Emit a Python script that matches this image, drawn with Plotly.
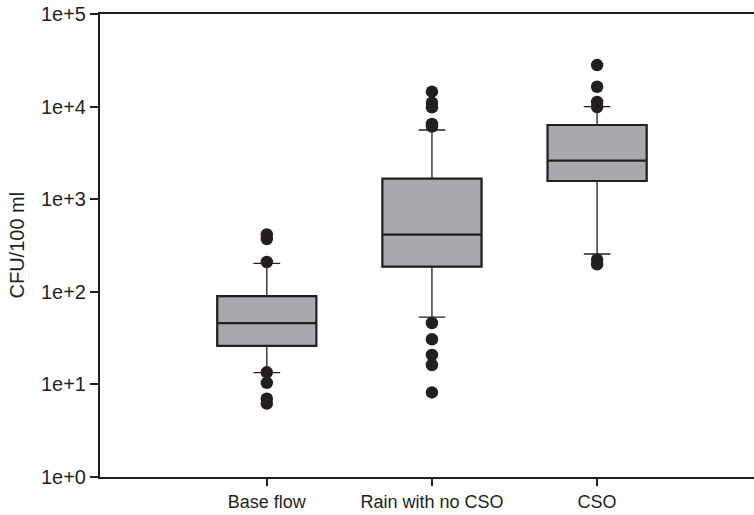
import plotly.graph_objects as go

# Bacterial counts by flow condition (CFU/100 ml)
categories = ["Base flow", "Rain with no CSO", "CSO"]
q1 = [26, 187, 1573]
median = [46, 414, 2605]
q3 = [90, 1665, 6330]
lower_fence = [13.4, 53.4, 256]
upper_fence = [203, 5590, 9970]

# Outlying observations per category
outliers_base = [416, 372, 210, 13.5, 10.4, 7.0, 6.2]
outliers_rain = [14500, 11000, 9820, 6500, 6100, 46, 30.7, 20.8, 16.2, 8.2]
outliers_cso = [28100, 16400, 11200, 9900, 222, 198]

y_tickvals = [1, 10, 100, 1000, 10000, 100000]
y_ticktext = ["1e+0", "1e+1", "1e+2", "1e+3", "1e+4", "1e+5"]

ink = "#231f20"
box_fill = "#a7a9ac"
font_family = "Liberation Sans, Arial, sans-serif"

fig = go.Figure()

# Whiskers and caps (thin strokes)
fig.add_trace(go.Box(
    x=categories,
    q1=q1,
    median=median,
    q3=q3,
    lowerfence=lower_fence,
    upperfence=upper_fence,
    width=0.6,
    whiskerwidth=0.27,
    fillcolor=box_fill,
    line=dict(color=ink, width=1.3),
    boxpoints=False,
    hoverinfo="skip",
    showlegend=False,
))

# Box outline and median drawn again with a heavier stroke
fig.add_trace(go.Box(
    x=categories,
    q1=q1,
    median=median,
    q3=q3,
    lowerfence=q1,
    upperfence=q3,
    width=0.6,
    whiskerwidth=0,
    fillcolor=box_fill,
    line=dict(color=ink, width=2.2),
    boxpoints=False,
    hoverinfo="skip",
    showlegend=False,
))

outlier_x = (
    [categories[0]] * len(outliers_base)
    + [categories[1]] * len(outliers_rain)
    + [categories[2]] * len(outliers_cso)
)
outlier_y = outliers_base + outliers_rain + outliers_cso

fig.add_trace(go.Scatter(
    x=outlier_x,
    y=outlier_y,
    mode="markers",
    marker=dict(color=ink, size=12.5, line=dict(width=0)),
    showlegend=False,
    hoverinfo="skip",
))

fig.update_layout(
    width=754,
    height=515,
    margin=dict(l=100, r=0, t=14, b=38),
    paper_bgcolor="white",
    plot_bgcolor="white",
    font=dict(family=font_family, size=18, color=ink),
    showlegend=False,
    boxmode="overlay",
)

fig.update_xaxes(
    type="category",
    categoryorder="array",
    categoryarray=categories,
    range=[-1.01, 2.95],
    showgrid=False,
    zeroline=False,
    showline=True,
    linecolor=ink,
    linewidth=2,
    mirror=True,
    ticks="outside",
    ticklen=7,
    tickwidth=1.5,
    tickcolor=ink,
    tickfont=dict(size=18, color=ink),
)

fig.update_yaxes(
    type="log",
    range=[0, 5],
    tickvals=y_tickvals,
    ticktext=y_ticktext,
    showgrid=False,
    zeroline=False,
    showline=True,
    linecolor=ink,
    linewidth=2,
    mirror=False,
    ticks="outside",
    ticklen=8,
    tickwidth=1.5,
    tickcolor=ink,
    tickfont=dict(size=20, color=ink),
)

fig.add_annotation(
    text="CFU/100 ml",
    xref="paper",
    yref="paper",
    x=(16 - 100) / 654,
    y=0.5,
    xanchor="center",
    yanchor="middle",
    textangle=-90,
    showarrow=False,
    font=dict(size=20, color=ink, family=font_family),
)

fig.write_html("out.html")
